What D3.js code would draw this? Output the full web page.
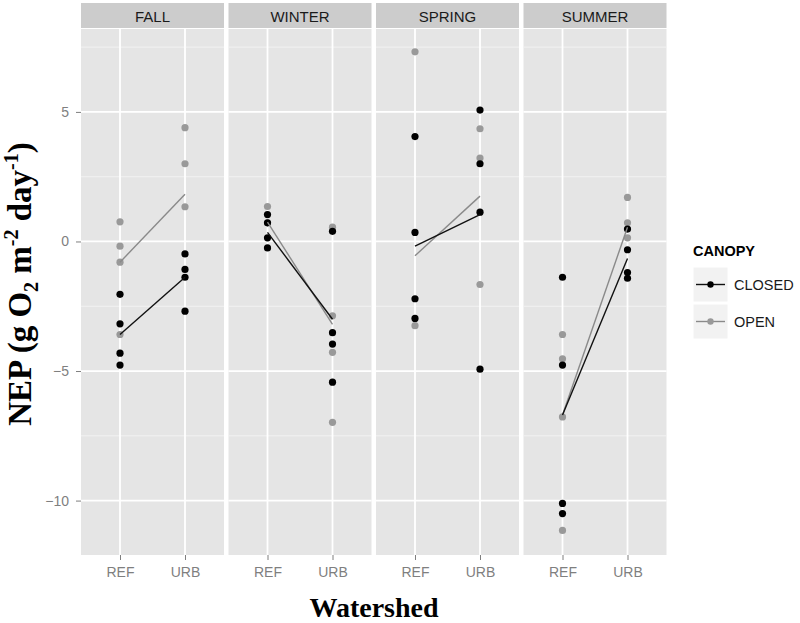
<!DOCTYPE html>
<html><head><meta charset="utf-8">
<script src="https://cdn.jsdelivr.net/npm/d3@7"></script>
<style>body{margin:0;background:#fff}</style>
</head><body>
<svg id="c" width="800" height="623"></svg>
<script>
const seasons = ["FALL","WINTER","SPRING","SUMMER"];
const watersheds = ["REF","URB"];
const canopies = ["CLOSED","OPEN"];
const yTicks = [-10,-5,0,5];

// individual observations [season][watershed]
const closedPoints = {
  FALL:   {REF:[-2.04,-3.18,-4.31,-4.77], URB:[-0.48,-1.08,-1.38,-2.69]},
  WINTER: {REF:[1.04,0.72,0.14,-0.25],    URB:[0.39,-3.52,-3.96,-5.43]},
  SPRING: {REF:[4.05,0.35,-2.21,-2.97],   URB:[5.07,3.0,1.13,-4.93]},
  SUMMER: {REF:[-1.38,-4.77,-10.11,-10.5],URB:[0.48,-0.32,-1.2,-1.42]}
};
const openPoints = {
  FALL:   {REF:[0.76,-0.18,-0.8,-3.59],   URB:[4.39,3.0,1.34]},
  WINTER: {REF:[1.35,0.72],               URB:[0.55,-2.87,-4.28,-6.98]},
  SPRING: {REF:[7.32,-3.25],              URB:[4.35,3.22,-1.66]},
  SUMMER: {REF:[-3.59,-4.53,-6.77,-11.15],URB:[1.7,0.72,0.14]}
};
// summary line endpoints [REF, URB]
const closedLine = {FALL:[-3.59,-1.38], WINTER:[0.35,-3.0], SPRING:[-0.18,1.04], SUMMER:[-6.7,-0.66]};
const openLine   = {FALL:[-0.8,1.82],   WINTER:[0.75,-3.2], SPRING:[-0.55,1.75], SUMMER:[-6.7,0.55]};

const colors = {CLOSED:"#000000", OPEN:"#999999"};
const lineColors = {CLOSED:"#111111", OPEN:"#8a8a8a"};
const SANS = "Liberation Sans, Arial, sans-serif";
const SERIF = "Liberation Serif, Times New Roman, serif";

const svg = d3.select("#c");
const pTop = 29, pBottom = 555, left0 = 81, pw = 143, gap = 4.5;
const y = d3.scaleLinear().domain([-12.1, 8.2]).range([pBottom, pTop]);
const px = d3.scaleBand().domain(seasons).range([left0, left0 + 4*pw + 3*gap]).paddingInner(gap/(pw+gap)).paddingOuter(0);
const x = d3.scalePoint().domain(watersheds).range([0, px.bandwidth()]).padding(0.6);

const minor = [-12.5,-7.5,-2.5,2.5,7.5].filter(v => v >= -12.1 && v <= 8.2);

seasons.forEach(s => {
  const g = svg.append("g").attr("transform", `translate(${px(s)},0)`);
  const w = px.bandwidth();
  // strip
  g.append("rect").attr("x",0).attr("y",3).attr("width",w).attr("height",pTop-4).attr("fill","#cccccc");
  g.append("text").attr("x",w/2).attr("y",22).attr("text-anchor","middle")
    .attr("font-family",SANS).attr("font-size",15).attr("fill","#1a1a1a").text(s);
  // panel
  g.append("rect").attr("x",0).attr("y",pTop).attr("width",w).attr("height",pBottom-pTop).attr("fill","#e5e5e5");
  minor.forEach(v => g.append("line").attr("x1",0).attr("x2",w).attr("y1",y(v)).attr("y2",y(v)).attr("stroke","#f2f2f2").attr("stroke-width",1));
  yTicks.forEach(v => g.append("line").attr("x1",0).attr("x2",w).attr("y1",y(v)).attr("y2",y(v)).attr("stroke","#ffffff").attr("stroke-width",1.8));
  watersheds.forEach(ws => g.append("line").attr("x1",x(ws)).attr("x2",x(ws)).attr("y1",pTop).attr("y2",pBottom).attr("stroke","#ffffff").attr("stroke-width",1.8));
  // x axis
  const ax = g.append("g").attr("transform",`translate(0,${pBottom})`).call(d3.axisBottom(x).tickSize(5).tickPadding(7));
  ax.select(".domain").remove();
  ax.selectAll("line").attr("stroke","#7f7f7f");
  ax.selectAll("text").attr("fill","#7f7f7f").attr("font-size",14).attr("font-family",SANS);

  // points: open first, then closed
  [["OPEN",openPoints],["CLOSED",closedPoints]].forEach(([c,data]) => {
    watersheds.forEach(ws => {
      g.selectAll(null).data(data[s][ws]).enter().append("circle")
        .attr("cx", x(ws)).attr("cy", d => y(d)).attr("r",3.6).attr("fill",colors[c]);
    });
  });
  // lines
  [["OPEN",openLine],["CLOSED",closedLine]].forEach(([c,data]) => {
    const line = d3.line().x((d,i) => x(watersheds[i])).y(d => y(d));
    g.append("path").attr("d", line(data[s])).attr("fill","none").attr("stroke",lineColors[c]).attr("stroke-width",1.4);
  });
});

// y axis
const ay = svg.append("g").attr("transform",`translate(${left0},0)`).call(d3.axisLeft(y).tickValues(yTicks).tickSize(5).tickPadding(7));
ay.select(".domain").remove();
ay.selectAll("line").attr("stroke","#7f7f7f");
ay.selectAll("text").attr("fill","#7f7f7f").attr("font-size",14).attr("font-family",SANS);

// axis titles
svg.append("text").attr("x", 374).attr("y",617).attr("text-anchor","middle")
  .attr("font-family",SERIF).attr("font-weight","bold").attr("font-size",28).text("Watershed");

const yl = svg.append("text").attr("transform","translate(31,284) rotate(-90)").attr("text-anchor","middle")
  .attr("font-family",SERIF).attr("font-weight","bold").attr("font-size",33);
yl.append("tspan").text("NEP (g O");
yl.append("tspan").attr("font-size",20).attr("dy",7).text("2");
yl.append("tspan").attr("dy",-7).text(" m");
yl.append("tspan").attr("font-size",20).attr("dy",-13).text("-2");
yl.append("tspan").attr("dy",13).text(" day");
yl.append("tspan").attr("font-size",20).attr("dy",-13).text("-1");
yl.append("tspan").attr("dy",13).text(")");

// legend
const lg = svg.append("g").attr("transform","translate(693,0)");
lg.append("text").attr("x",0).attr("y",256).attr("font-family",SANS)
  .attr("font-weight","bold").attr("font-size",14.5).attr("fill","#000").text("CANOPY");
canopies.forEach((c,i) => {
  const ky = 267 + i*37;
  lg.append("rect").attr("x",0).attr("y",ky).attr("width",35).attr("height",35).attr("fill","#f2f2f2").attr("stroke","#ffffff");
  lg.append("line").attr("x1",3).attr("x2",32).attr("y1",ky+17.5).attr("y2",ky+17.5).attr("stroke",lineColors[c]).attr("stroke-width",1.4);
  lg.append("circle").attr("cx",17.5).attr("cy",ky+17.5).attr("r",3.2).attr("fill",colors[c]);
  lg.append("text").attr("x",41).attr("y",ky+23).attr("font-family",SANS)
    .attr("font-size",14.5).attr("fill","#1a1a1a").text(c);
});
</script>
</body></html>
